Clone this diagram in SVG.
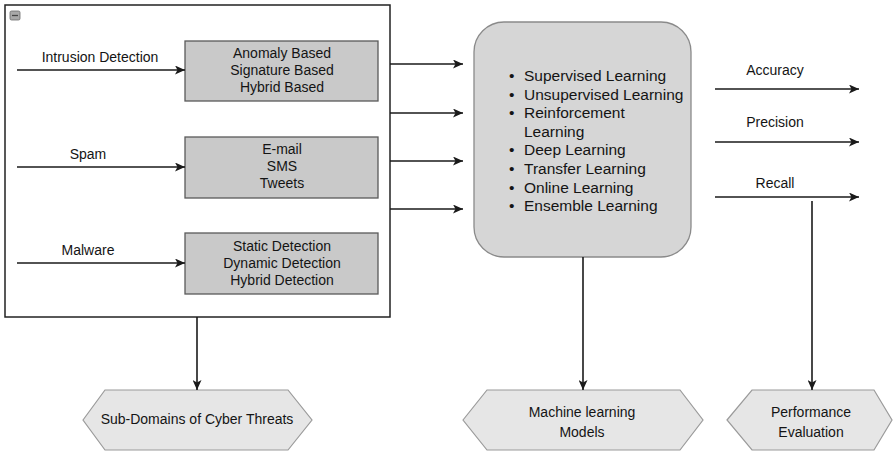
<svg xmlns="http://www.w3.org/2000/svg" width="893" height="452" viewBox="0 0 893 452">
  <style>
    text { font-family: "Liberation Sans", Arial, sans-serif; font-size: 14px; fill: #141414; }
    .mid { text-anchor: middle; }
    .list { font-size: 15.5px; }
    .frame { fill: #ffffff; stroke: #222222; stroke-width: 1.5; }
    .cat { fill: #c9c9c9; stroke: #5a5a5a; stroke-width: 1.3; }
    .models { fill: #d6d6d6; stroke: #8a8a8a; stroke-width: 1.3; }
    .hex { fill: #e6e6e6; stroke: #9a9a9a; stroke-width: 1.2; }
    .wire { fill: none; stroke: #1a1a1a; stroke-width: 1.6; }
  </style>
  <defs>
    <marker id="arrow" viewBox="0 0 10 9" refX="10" refY="4.5" markerWidth="10" markerHeight="9" markerUnits="userSpaceOnUse" orient="auto">
      <path d="M0,0 L10,4.5 L0,9 L2.5,4.5 Z" fill="#1a1a1a"/>
    </marker>
  </defs>

  <rect width="893" height="452" fill="#ffffff"/>

  <!-- container of the threat sub-domains -->
  <g id="threat-container">
    <rect class="frame" x="5" y="5" width="385" height="312"/>
    <rect x="10" y="11" width="10" height="9" rx="1.5" fill="#a8a8a8" stroke="#6a6a6a" stroke-width="0.8"/>
    <line x1="12" y1="15.5" x2="18" y2="15.5" stroke="#444444" stroke-width="1.3"/>
  </g>

  <g id="intrusion-box">
    <rect class="cat" x="185" y="41" width="193" height="60"/>
    <text class="mid" x="282" y="58">Anomaly Based</text>
    <text class="mid" x="282" y="75">Signature Based</text>
    <text class="mid" x="282" y="92">Hybrid Based</text>
  </g>

  <g id="spam-box">
    <rect class="cat" x="185" y="137" width="193" height="61"/>
    <text class="mid" x="282" y="154">E-mail</text>
    <text class="mid" x="282" y="171">SMS</text>
    <text class="mid" x="282" y="188">Tweets</text>
  </g>

  <g id="malware-box">
    <rect class="cat" x="185" y="233" width="193" height="61"/>
    <text class="mid" x="282" y="251">Static Detection</text>
    <text class="mid" x="282" y="268">Dynamic Detection</text>
    <text class="mid" x="282" y="285">Hybrid Detection</text>
  </g>

  <g id="learning-methods">
    <rect class="models" x="474" y="22" width="217" height="235" rx="30" ry="30"/>
    <g class="list">
      <text class="list" x="509" y="81">•</text><text class="list" x="524" y="81">Supervised Learning</text>
      <text class="list" x="509" y="99.6">•</text><text class="list" x="524" y="99.6">Unsupervised Learning</text>
      <text class="list" x="509" y="118.2">•</text><text class="list" x="524" y="118.2">Reinforcement</text>
      <text class="list" x="524" y="136.8">Learning</text>
      <text class="list" x="509" y="155.4">•</text><text class="list" x="524" y="155.4">Deep Learning</text>
      <text class="list" x="509" y="174">•</text><text class="list" x="524" y="174">Transfer Learning</text>
      <text class="list" x="509" y="192.6">•</text><text class="list" x="524" y="192.6">Online Learning</text>
      <text class="list" x="509" y="211.2">•</text><text class="list" x="524" y="211.2">Ensemble Learning</text>
    </g>
  </g>

  <g id="sub-domains">
    <polygon class="hex" points="83,420 105,390 288,390 312,420 288,450 105,450"/>
    <text class="mid" x="197" y="424">Sub-Domains of Cyber Threats</text>
  </g>

  <g id="ml-models">
    <polygon class="hex" points="463,420 487,390 680,390 703,420 680,450 487,450"/>
    <text class="mid" x="582" y="417">Machine learning</text>
    <text class="mid" x="582" y="437">Models</text>
  </g>

  <g id="performance">
    <polygon class="hex" points="727,420 752,390 874,390 892,420 874,450 752,450"/>
    <text class="mid" x="811" y="417">Performance</text>
    <text class="mid" x="811" y="437">Evaluation</text>
  </g>

  <g id="connectors">
    <line class="wire" x1="17" y1="70" x2="185" y2="70" marker-end="url(#arrow)"/>
    <line class="wire" x1="17" y1="167" x2="185" y2="167" marker-end="url(#arrow)"/>
    <line class="wire" x1="17" y1="263" x2="185" y2="263" marker-end="url(#arrow)"/>
    <text class="mid" x="100" y="62">Intrusion Detection</text>
    <text class="mid" x="88" y="159">Spam</text>
    <text class="mid" x="88" y="255">Malware</text>

    <line class="wire" x1="390" y1="64" x2="463" y2="64" marker-end="url(#arrow)"/>
    <line class="wire" x1="390" y1="113" x2="463" y2="113" marker-end="url(#arrow)"/>
    <line class="wire" x1="390" y1="161" x2="463" y2="161" marker-end="url(#arrow)"/>
    <line class="wire" x1="390" y1="209" x2="463" y2="209" marker-end="url(#arrow)"/>

    <line class="wire" x1="715" y1="89" x2="859" y2="89" marker-end="url(#arrow)"/>
    <line class="wire" x1="715" y1="142" x2="859" y2="142" marker-end="url(#arrow)"/>
    <line class="wire" x1="715" y1="197" x2="859" y2="197" marker-end="url(#arrow)"/>
    <text class="mid" x="775" y="75">Accuracy</text>
    <text class="mid" x="775" y="127">Precision</text>
    <text class="mid" x="775" y="188">Recall</text>

    <line class="wire" x1="197" y1="317" x2="197" y2="390" marker-end="url(#arrow)"/>
    <line class="wire" x1="583" y1="257" x2="583" y2="390" marker-end="url(#arrow)"/>
    <line class="wire" x1="812" y1="201" x2="812" y2="390" marker-end="url(#arrow)"/>
  </g>
</svg>
